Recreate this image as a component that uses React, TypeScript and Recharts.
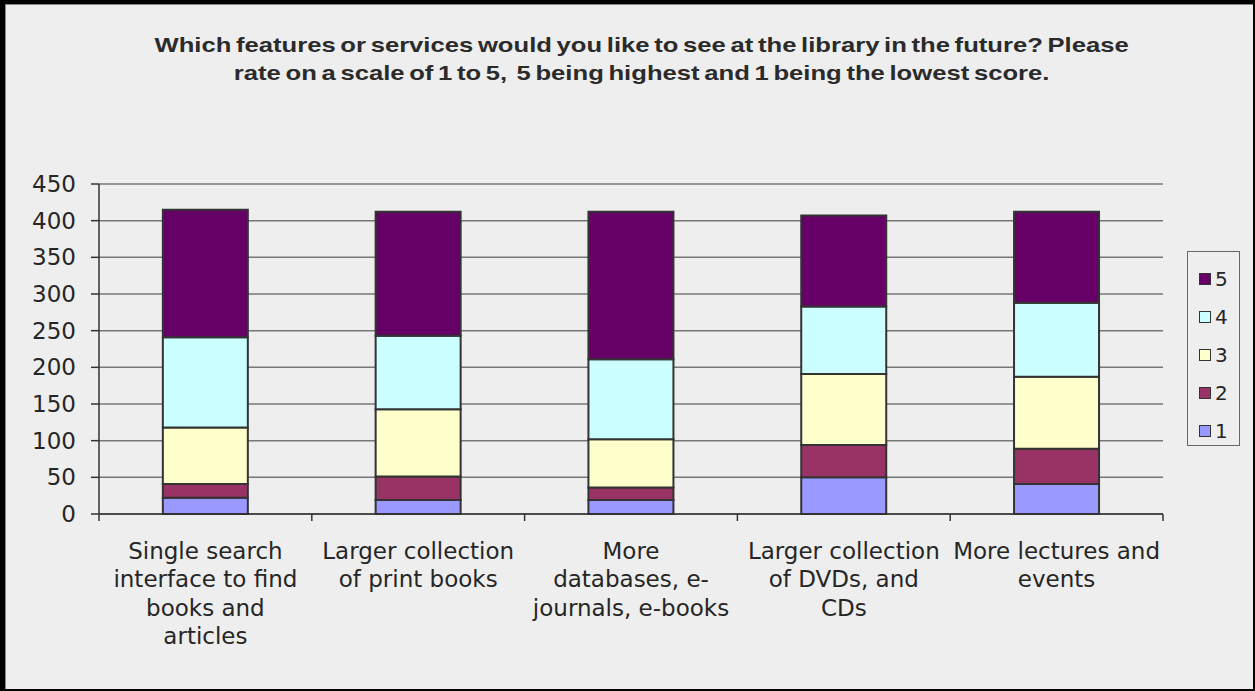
import React from 'react';
import { BarChart, Bar, XAxis, YAxis, CartesianGrid } from 'recharts';

const categories = [
  'Single search\ninterface to find\nbooks and\narticles',
  'Larger collection\nof print books',
  'More\ndatabases, e-\njournals, e-books',
  'Larger collection\nof DVDs, and\nCDs',
  'More lectures and\nevents',
];

const score1 = [22, 19, 19, 50, 41];
const score2 = [19, 32, 17, 44, 48];
const score3 = [77, 92, 66, 97, 98];
const score4 = [123, 100, 109, 92, 101];
const score5 = [174, 169, 201, 124, 124];

const yTicks = [0, 50, 100, 150, 200, 250, 300, 350, 400, 450];

const title =
  'Which features or services would you like to see at the library in the future? Please\nrate on a scale of 1 to 5,  5 being highest and 1 being the lowest score.';

const series = [
  { key: 's1', name: '1', color: '#9999FF' },
  { key: 's2', name: '2', color: '#993366' },
  { key: 's3', name: '3', color: '#FFFFCC' },
  { key: 's4', name: '4', color: '#CCFFFF' },
  { key: 's5', name: '5', color: '#660066' },
];

const data = categories.map((c, i) => ({
  name: c,
  s1: score1[i],
  s2: score2[i],
  s3: score3[i],
  s4: score4[i],
  s5: score5[i],
}));

const W = 1255;
const H = 691;
const MARGIN = { top: 184, right: 92, bottom: 0, left: 0 };
const Y_AXIS_W = 99;
const BAND = (W - Y_AXIS_W - MARGIN.right) / categories.length;
const FONT = '"DejaVu Sans", sans-serif';

const CategoryTick = (props: any) => {
  const { x, y, payload, index } = props;
  const lines = String(payload.value).split('\n');
  return (
    <g>
      <line x1={x - BAND / 2} x2={x - BAND / 2} y1={y} y2={y + 7} stroke="#333" strokeWidth={1.5} />
      {index === categories.length - 1 && (
        <line x1={x + BAND / 2} x2={x + BAND / 2} y1={y} y2={y + 7} stroke="#333" strokeWidth={1.5} />
      )}
      <text x={x} y={y + 45} textAnchor="middle" fontSize={23} fontFamily={FONT} fill="#262626">
        {lines.map((l, i) => (
          <tspan key={i} x={x} dy={i === 0 ? 0 : 28.3}>
            {l}
          </tspan>
        ))}
      </text>
    </g>
  );
};

export default function App() {
  return (
    <div
      style={{
        position: 'absolute',
        left: 0,
        top: 0,
        width: W,
        height: H,
        background: '#eeeeee',
        overflow: 'hidden',
      }}
    >
      <BarChart width={W} height={H} data={data} margin={MARGIN} barCategoryGap="30%">
        <CartesianGrid vertical={false} stroke="#777" strokeWidth={1.5} />
        <XAxis
          dataKey="name"
          height={177}
          interval={0}
          tickLine={false}
          tickSize={0}
          tickMargin={0}
          axisLine={{ stroke: '#333', strokeWidth: 1.5 }}
          tick={<CategoryTick />}
        />
        <YAxis
          width={Y_AXIS_W}
          domain={[0, 450]}
          ticks={yTicks}
          interval={0}
          tickSize={8}
          tickMargin={15}
          axisLine={{ stroke: '#333', strokeWidth: 1.5 }}
          tickLine={{ stroke: '#333', strokeWidth: 1.5 }}
          tick={{ fontSize: 23, fontFamily: FONT, fill: '#262626' }}
        />
        {series.map((s) => (
          <Bar
            key={s.key}
            dataKey={s.key}
            name={s.name}
            stackId="a"
            fill={s.color}
            stroke="#333"
            strokeWidth={2}
            isAnimationActive={false}
          />
        ))}
      </BarChart>

      {/* title */}
      <div
        style={{
          position: 'absolute',
          left: 14,
          width: W,
          top: 31,
          textAlign: 'center',
          whiteSpace: 'pre',
          fontFamily: '"Liberation Sans", Arial, sans-serif',
          fontWeight: 'bold',
          fontSize: 21,
          lineHeight: '28px',
          color: '#2b2b2b',
          wordSpacing: -2,
          transform: 'scaleX(1.22)',
          transformOrigin: '627px 0',
        }}
      >
        {title}
      </div>

      {/* legend */}
      <div
        style={{
          position: 'absolute',
          left: 1187,
          top: 251,
          width: 53,
          height: 195,
          border: '1px solid #666',
          boxSizing: 'border-box',
          fontFamily: FONT,
          fontSize: 20,
          color: '#262626',
          paddingTop: 8,
        }}
      >
        {[...series].reverse().map((s) => (
          <div key={s.key} style={{ display: 'flex', alignItems: 'center', height: 38, paddingLeft: 11 }}>
            <span
              style={{
                display: 'inline-block',
                width: 10,
                height: 10,
                background: s.color,
                border: '1.5px solid #333',
                marginRight: 4,
              }}
            />
            {s.name}
          </div>
        ))}
      </div>

      {/* frame */}
      <div
        style={{
          position: 'absolute',
          inset: 0,
          borderTop: '4px solid #000',
          borderLeft: '5px solid #000',
          borderRight: '2px solid #000',
          borderBottom: '2px solid #000',
          boxShadow: 'inset 1px 1px 0 #888',
          pointerEvents: 'none',
        }}
      />
    </div>
  );
}
